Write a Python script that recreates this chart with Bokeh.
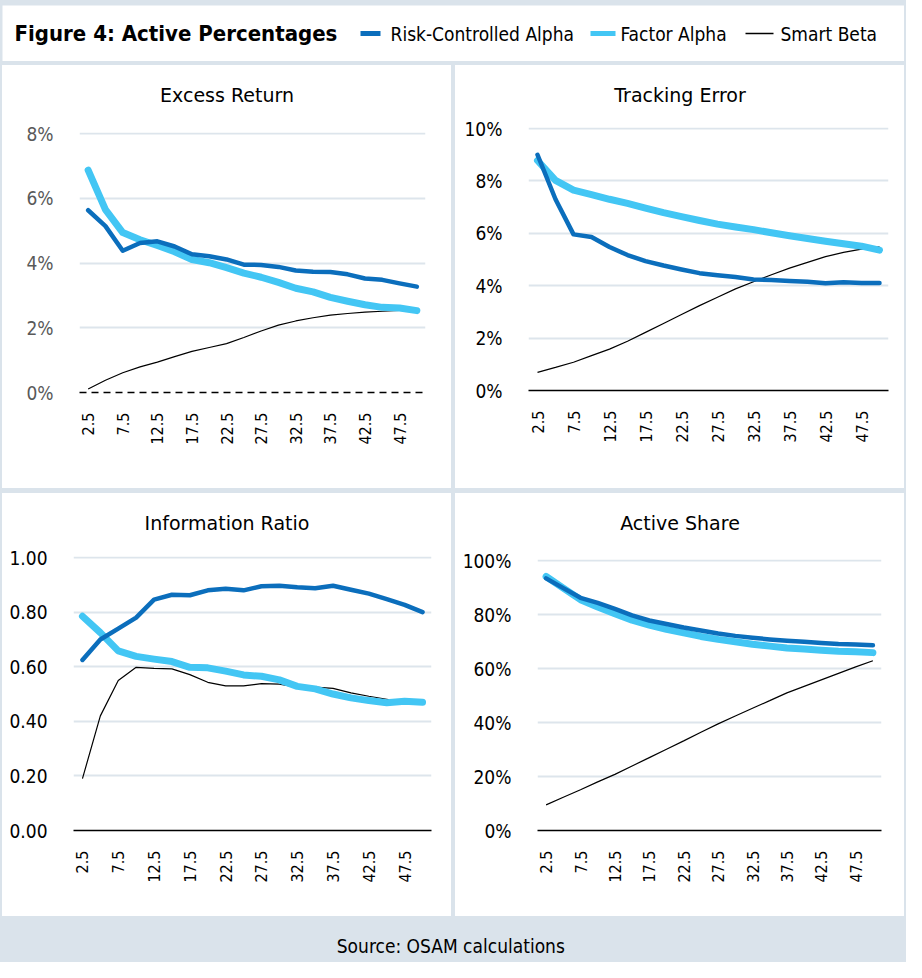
import math
from bokeh.plotting import figure
from bokeh.layouts import column, row
from bokeh.models import Range1d, FixedTicker, PrintfTickFormatter, Label
from bokeh.embed import file_html
from bokeh.resources import INLINE

# ---------------- data ----------------
x_vals = [2.5, 5, 7.5, 10, 12.5, 15, 17.5, 20, 22.5, 25,
          27.5, 30, 32.5, 35, 37.5, 40, 42.5, 45, 47.5, 50]
x_ticks = [2.5, 7.5, 12.5, 17.5, 22.5, 27.5, 32.5, 37.5, 42.5, 47.5]

series_names = ["Risk-Controlled Alpha", "Factor Alpha", "Smart Beta"]

# Excess Return (%)
er_rc = [5.63, 5.14, 4.38, 4.62, 4.67, 4.51, 4.27, 4.21, 4.11, 3.95,
         3.94, 3.88, 3.77, 3.73, 3.72, 3.65, 3.52, 3.48, 3.37, 3.27]
er_fa = [6.87, 5.65, 4.94, 4.72, 4.54, 4.35, 4.11, 4.01, 3.86, 3.69,
         3.56, 3.40, 3.22, 3.11, 2.94, 2.82, 2.71, 2.63, 2.61, 2.53]
er_sb = [0.11, 0.38, 0.61, 0.79, 0.94, 1.11, 1.27, 1.39, 1.51, 1.70,
         1.90, 2.08, 2.21, 2.31, 2.39, 2.44, 2.48, 2.51, 2.54, 2.55]
er_ticks = [0, 2, 4, 6, 8]

# Tracking Error (%)
te_rc = [9.00, 7.30, 5.96, 5.86, 5.48, 5.17, 4.94, 4.77, 4.62, 4.48,
         4.40, 4.33, 4.24, 4.22, 4.18, 4.15, 4.09, 4.13, 4.10, 4.10]
te_fa = [8.78, 8.02, 7.65, 7.48, 7.30, 7.14, 6.96, 6.79, 6.64, 6.49,
         6.35, 6.24, 6.14, 6.02, 5.91, 5.80, 5.70, 5.60, 5.51, 5.36]
te_sb = [0.69, 0.88, 1.08, 1.33, 1.58, 1.88, 2.22, 2.56, 2.90, 3.24,
         3.56, 3.88, 4.15, 4.42, 4.67, 4.89, 5.11, 5.27, 5.40, 5.48]
te_ticks = [0, 2, 4, 6, 8, 10]

# Information Ratio
ir_rc = [0.625, 0.700, 0.740, 0.780, 0.846, 0.864, 0.862, 0.880, 0.886, 0.880,
         0.895, 0.897, 0.891, 0.888, 0.897, 0.882, 0.868, 0.848, 0.827, 0.800]
ir_fa = [0.785, 0.725, 0.658, 0.638, 0.628, 0.619, 0.598, 0.596, 0.584, 0.570,
         0.565, 0.552, 0.528, 0.519, 0.500, 0.486, 0.476, 0.468, 0.474, 0.470]
ir_sb = [0.190, 0.420, 0.550, 0.598, 0.594, 0.592, 0.571, 0.543, 0.530, 0.530,
         0.538, 0.536, 0.525, 0.525, 0.521, 0.504, 0.492, 0.481, 0.470, 0.470]
ir_ticks = [0.0, 0.2, 0.4, 0.6, 0.8, 1.0]

# Active Share (%)
as_rc = [93.4, 89.8, 86.2, 84.3, 82.1, 79.7, 77.8, 76.5, 75.2, 74.1,
         73.0, 72.1, 71.4, 70.8, 70.3, 69.9, 69.5, 69.1, 68.9, 68.6]
as_fa = [94.1, 89.8, 85.5, 82.8, 80.3, 77.9, 76.1, 74.5, 73.2, 71.9,
         70.8, 69.9, 69.0, 68.3, 67.6, 67.2, 66.8, 66.4, 66.2, 65.9]
as_sb = [9.5, 12.3, 15.1, 18.0, 20.8, 23.9, 27.0, 30.1, 33.2, 36.4,
         39.5, 42.4, 45.3, 48.1, 51.0, 53.4, 55.8, 58.2, 60.6, 62.9]
as_ticks = [0, 20, 40, 60, 80, 100]

# ---------------- style ----------------
BG = "#dae3eb"
GRID = "#dde5ec"
DARK = "#0b6ebc"
LIGHT = "#43c6f4"
NARROW = "DejaVu Sans Condensed, Liberation Sans"
TITLE_FONT = "DejaVu Sans"
PW, PH = 449, 423
TH = 48  # height of the title strip of each panel


def blank(width, height, fill, margin=(0, 0, 0, 0)):
    f = figure(width=width, height=height, output_backend="svg", toolbar_location=None,
               x_range=Range1d(0, width), y_range=Range1d(0, height),
               x_axis_type=None, y_axis_type=None, min_border=0,
               background_fill_color=fill, border_fill_color=fill,
               outline_line_color=None, margin=margin, frame_align=False)
    f.grid.visible = False
    return f


def panel(title, rc, fa, sb, yticks, fmt, ymax, L, R, T, B,
          ylab_color="black", dashed=False, margin=(0, 0, 0, 0)):
    tf = blank(PW, TH, "white")
    tf.add_layout(Label(x=PW / 2, y=TH - 29, text=title, text_align="center",
                        text_baseline="middle", text_font=TITLE_FONT,
                        text_font_size="19px", text_color="black"))

    p = figure(width=PW, height=PH - TH, output_backend="svg", toolbar_location=None,
               x_range=Range1d(1.25, 51.25), y_range=Range1d(0, ymax * 1.004),
               min_border_left=L, min_border_right=R,
               min_border_top=T - TH, min_border_bottom=B,
               background_fill_color="white", border_fill_color="white",
               outline_line_color=None, frame_align=False)
    p.line(x_vals, sb, color="black", line_width=1.2)
    p.line(x_vals, fa, color=LIGHT, line_width=7, line_cap="round", line_join="round")
    p.line(x_vals, rc, color=DARK, line_width=4.5, line_cap="round", line_join="round")

    p.xgrid.visible = False
    p.ygrid.grid_line_color = GRID
    p.ygrid.grid_line_width = 2

    ya = p.yaxis[0]
    ya.ticker = FixedTicker(ticks=yticks)
    ya.formatter = PrintfTickFormatter(format=fmt)
    ya.axis_line_color = None
    ya.major_tick_line_color = None
    ya.minor_tick_line_color = None
    ya.major_label_standoff = 20
    ya.major_label_text_font = NARROW
    ya.major_label_text_font_size = "19px"
    ya.major_label_text_color = ylab_color

    xa = p.xaxis[0]
    xa.ticker = FixedTicker(ticks=x_ticks)
    xa.major_label_orientation = math.pi / 2
    xa.major_tick_line_color = None
    xa.minor_tick_line_color = None
    xa.axis_line_color = "black"
    xa.axis_line_width = 1.5
    if dashed:
        xa.axis_line_dash = "7 5"
    xa.major_label_standoff = 14
    xa.major_label_text_font = NARROW
    xa.major_label_text_font_size = "16px"
    xa.major_label_text_color = "black"

    return column(tf, p, spacing=0, margin=margin,
                  styles={"background-color": "white"})


p1 = panel("Excess Return", er_rc, er_fa, er_sb, er_ticks, "%d%%", 8,
           77, 26, 67, 96, ylab_color="#595959", dashed=True, margin=(0, 0, 0, 2))
p2 = panel("Tracking Error", te_rc, te_fa, te_sb, te_ticks, "%d%%", 10,
           73, 16, 62, 98, margin=(0, 2, 0, 0))
p3 = panel("Information Ratio", ir_rc, ir_fa, ir_sb, ir_ticks, "%.2f", 1.0,
           71, 20, 63, 86, margin=(5, 0, 0, 2))
p4 = panel("Active Share", as_rc, as_fa, as_sb, as_ticks, "%d%%", 100,
           82, 23, 66, 86, margin=(5, 2, 0, 0))

# ---------------- header ----------------
HW, HH = 902, 56
hdr = blank(HW, HH, "white", margin=(5, 2, 4, 2))
hdr.add_layout(Label(x=12, y=HH / 2, text="Figure 4: Active Percentages",
                     text_font=NARROW, text_font_style="bold",
                     text_font_size="22px", text_baseline="middle", text_color="black"))
leg_x = [(358, 378, 388), (588, 613, 618), (743, 771, 778)]
leg_col = [DARK, LIGHT, "black"]
leg_w = [5, 5, 1.5]
for (x0, x1, xt), c, w, name in zip(leg_x, leg_col, leg_w, series_names):
    hdr.line([x0, x1], [HH / 2, HH / 2], color=c, line_width=w)
    hdr.add_layout(Label(x=xt, y=HH / 2, text=name, text_font=NARROW,
                         text_font_size="19px", text_baseline="middle",
                         text_color="black"))

# ---------------- footer ----------------
FW, FH = 906, 46
ftr = blank(FW, FH, BG)
ftr.add_layout(Label(x=FW / 2, y=FH / 2 - 6, text="Source:  OSAM calculations",
                     text_font=NARROW, text_font_size="19px",
                     text_align="center", text_baseline="middle",
                     text_color="black"))

layout = column(hdr, row(p1, p2, spacing=4), row(p3, p4, spacing=4), ftr,
                spacing=0, styles={"background-color": BG})

open("out.html", "w").write(file_html(layout, INLINE))
